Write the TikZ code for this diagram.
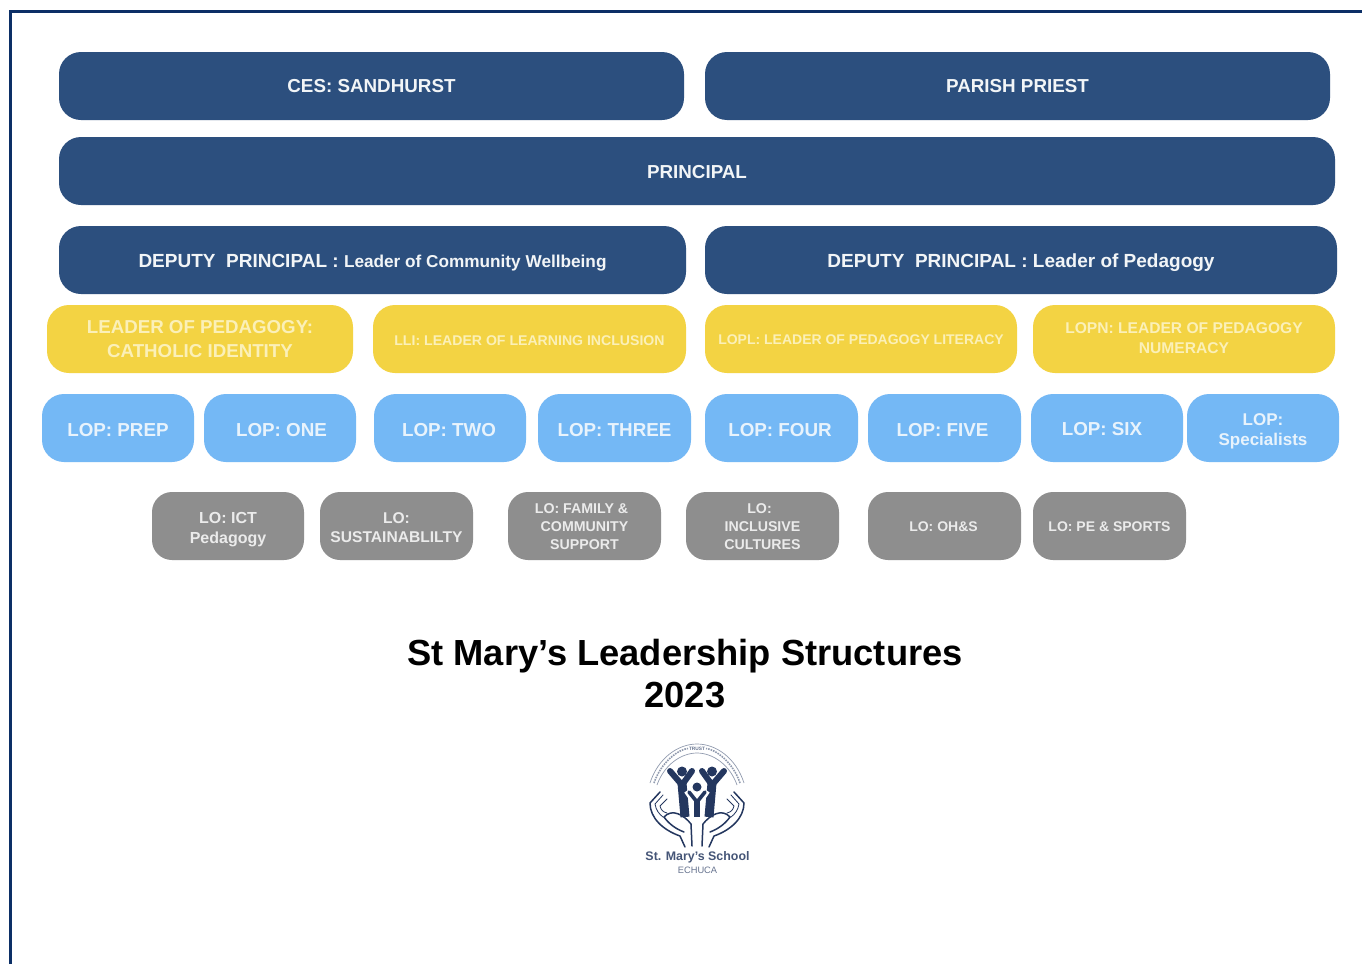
\documentclass[tikz,border=0pt]{standalone}
\usepackage{fontspec}
\setmainfont{Liberation Sans}
\definecolor{navy}{HTML}{2C4F7E}
\definecolor{frameblue}{HTML}{0C2F66}
\definecolor{gold}{HTML}{F3D343}
\definecolor{sky}{HTML}{74B8F5}
\definecolor{slate}{HTML}{8E8E8E}
\definecolor{logoblue}{HTML}{24375F}
\definecolor{goldtext}{HTML}{FBF0B8}
\definecolor{skytext}{HTML}{E8F3FC}
\tikzset{
  card/.style={rounded corners=#1,align=center,inner sep=0pt},
  navycard/.style={card=22pt,fill=navy,text=white!94!navy},
  goldcard/.style={card=22pt,fill=gold,text=goldtext},
  skycard/.style={card=22pt,fill=sky,text=skytext},
  greycard/.style={card=20pt,fill=slate,text=white!92!black},
  logoline/.style={draw=logoblue,line width=1.5pt,line cap=round,line join=round},
  logothin/.style={logoline,line width=.8pt},
  logobody/.style={draw=logoblue,line cap=round,line join=round},
  logoarc/.style={draw=logoblue!50!white,line width=.7pt}
}
% [text shift], name, x0, y0, x1, y1, style, font size, text
\newcommand{\cardbox}[9][0,0]{%
  \pgfmathsetmacro{\cw}{#5-#3}\pgfmathsetmacro{\ch}{#6-#4}%
  \pgfmathsetmacro{\cx}{(#5+#3)/2}\pgfmathsetmacro{\cy}{(#6+#4)/2}%
  \pgfmathsetmacro{\cl}{#8*1.2}%
  \node[#7,minimum width=\cw pt,minimum height=\ch pt] (#2) at (\cx,\cy) {};
  \node[#7,fill=none,font=\fontsize{#8}{\cl}\selectfont\bfseries] (#2text) at ([shift={(#1)}]#2.center) {#9};}
\begin{document}
\begin{tikzpicture}[y=-1pt,x=1pt]
\useasboundingbox (0,0) rectangle (1362,964);
\fill[white] (0,0) rectangle (1362,964);
\draw[frameblue,line width=2.4pt] (10.3,964) -- (10.3,11.3) -- (1362,11.3);
\cardbox[0,0.5]{ces}{59}{52}{684}{120}{navycard}{18.8}{CES: SANDHURST}
\cardbox[0,0.5]{priest}{705}{52}{1330}{120}{navycard}{18.8}{PARISH PRIEST}
\cardbox[0,1]{principal}{59}{137}{1335}{205}{navycard}{18.8}{PRINCIPAL}
\cardbox[0,2.5]{dpone}{59}{226}{686}{294}{navycard}{19}{DEPUTY\ \ PRINCIPAL : {\fontsize{17.2}{20}\selectfont Leader of Community Wellbeing}}
\cardbox[0,2.5]{dptwo}{705}{226}{1337}{294}{navycard}{19}{DEPUTY\ \ PRINCIPAL : Leader of Pedagogy}
\cardbox[0,0.5]{lopci}{47}{305}{353}{373}{goldcard}{18.7}{LEADER OF PEDAGOGY:\\[1.5pt]CATHOLIC IDENTITY}
\cardbox[0,1.5]{lli}{373}{305}{686}{373}{goldcard}{14.1}{LLI: LEADER OF LEARNING INCLUSION}
\cardbox[0,1]{lopl}{705}{305}{1017}{373}{goldcard}{14}{LOPL: LEADER OF PEDAGOGY LITERACY}
\cardbox[0,-0.5]{lopn}{1033}{305}{1335}{373}{goldcard}{15.6}{LOPN: LEADER OF PEDAGOGY\\[1.5pt]NUMERACY}
\cardbox[0,2.5]{prep}{42}{394}{194}{462}{skycard}{18.8}{LOP: PREP}
\cardbox[1.5,2.5]{one}{204}{394}{356}{462}{skycard}{18.8}{LOP: ONE}
\cardbox[-1,2.5]{two}{374}{394}{526}{462}{skycard}{18.8}{LOP: TWO}
\cardbox[0,2.5]{three}{538}{394}{691}{462}{skycard}{18.8}{LOP: THREE}
\cardbox[-1.5,2.5]{four}{705}{394}{858}{462}{skycard}{18.8}{LOP: FOUR}
\cardbox[-2,2.5]{five}{868}{394}{1021}{462}{skycard}{18.8}{LOP: FIVE}
\cardbox[-5,1]{six}{1031}{394}{1183}{462}{skycard}{18.8}{LOP: SIX}
\cardbox[0,3.5]{spec}{1187}{394}{1339}{462}{skycard}{17}{LOP:\\Specialists}
\cardbox[0,3.5]{ict}{152}{492}{304}{560}{greycard}{16}{LO: ICT\\[1pt]Pedagogy}
\cardbox[0,1.5]{sus}{320}{492}{473}{560}{greycard}{15.6}{LO:\\[1pt]SUSTAINABLILTY}
\cardbox[0,1]{fam}{508}{492}{661}{560}{greycard}{14.2}{LO: FAMILY \&\hspace*{6pt}\\[1pt]COMMUNITY\\[1pt]SUPPORT}
\cardbox[0,1]{inc}{686}{492}{839}{560}{greycard}{14.2}{LO:\hspace*{6pt}\\[1pt]INCLUSIVE\\[1pt]CULTURES}
\cardbox[-1,1]{ohs}{868}{492}{1021}{560}{greycard}{14}{LO: OH\&S}
\cardbox[0,1]{pe}{1033}{492}{1186}{560}{greycard}{14}{LO: PE \& SPORTS}
\node[font=\fontsize{36.3}{42}\selectfont\bfseries,align=center,text=black,inner sep=0pt] (title) at (685,674) {St Mary’s Leadership Structures\\2023};
% logo: lettering
\node[font=\fontsize{12.4}{14}\selectfont\bfseries,text=logoblue!85!white,inner sep=0pt] (school) at (697.5,857) {St. Mary’s School};
\node[font=\fontsize{9.3}{10}\selectfont,text=logoblue!70!white,inner sep=0pt] (town) at (697.5,870.5) {ECHUCA};
% logo: arch
\draw[logoarc] (650,783) .. controls (658,758) and (678,744) .. (697,744) .. controls (716,744) and (736,758) .. (744,783);
\draw[logoarc] (657,785) .. controls (664,765) and (681,753) .. (697,753) .. controls (713,753) and (730,765) .. (737,785);
\draw[logoarc,line width=1.6pt,dash pattern=on 1.6pt off 1pt] (654,783) .. controls (661,762) and (679,749) .. (688,748.5);
\draw[logoarc,line width=1.6pt,dash pattern=on 1.6pt off 1pt] (740,783) .. controls (733,762) and (715,749) .. (706,748.5);
\node[font=\fontsize{4.8}{5}\selectfont\bfseries,text=logoblue!70!white,inner sep=0pt] (motto) at (697,748.8) {TRUST};
% logo: figures
\fill[logoblue] (682,771.5) circle (5);
\fill[logoblue] (712,771.5) circle (5);
\draw[logobody,line width=6pt] (670,771) -- (682,785) -- (692,771);
\draw[logobody,line width=6pt] (724,771) -- (712,785) -- (702,771);
\draw[logobody,line width=9pt,line cap=butt] (682,783) -- (685,817);
\draw[logobody,line width=9pt,line cap=butt] (712,783) -- (709,817);
\draw[white,line width=9pt,line join=round] (688,790) -- (697,803) -- (706,790);
\draw[white,line width=11pt] (697,800) -- (697,820);
\fill[white] (697,787) circle (7);
\fill[logoblue] (697,787) circle (4.5);
\draw[logobody,line width=3.6pt] (689,792) -- (697,802) -- (705,792);
\draw[logobody,line width=6.5pt,line cap=butt] (697,800) -- (697,817);
% logo: hands
\draw[logoline] (660,792) -- (650,803) .. controls (650,818) and (663,830) .. (680,836) -- (685,847);
\draw[logoline] (664,817) .. controls (672,808) and (684,815) .. (691,824) -- (692,846);
\draw[logoline] (664,817) .. controls (669,824) and (676,829) .. (684,832);
\draw[logoline] (734,792) -- (744,803) .. controls (744,818) and (731,830) .. (714,836) -- (709,847);
\draw[logoline] (730,817) .. controls (722,808) and (710,815) .. (703,824) -- (702,846);
\draw[logoline] (730,817) .. controls (725,824) and (718,829) .. (710,832);
\draw[logothin] (663,795) -- (655,804) .. controls (656,810) and (659,814) .. (663,817);
\draw[logothin] (667,799) -- (660,806) .. controls (661,810) and (663,812) .. (667,813);
\draw[logothin] (731,795) -- (739,804) .. controls (738,810) and (735,814) .. (731,817);
\draw[logothin] (727,799) -- (734,806) .. controls (733,810) and (731,812) .. (727,813);
\end{tikzpicture}
\end{document}
